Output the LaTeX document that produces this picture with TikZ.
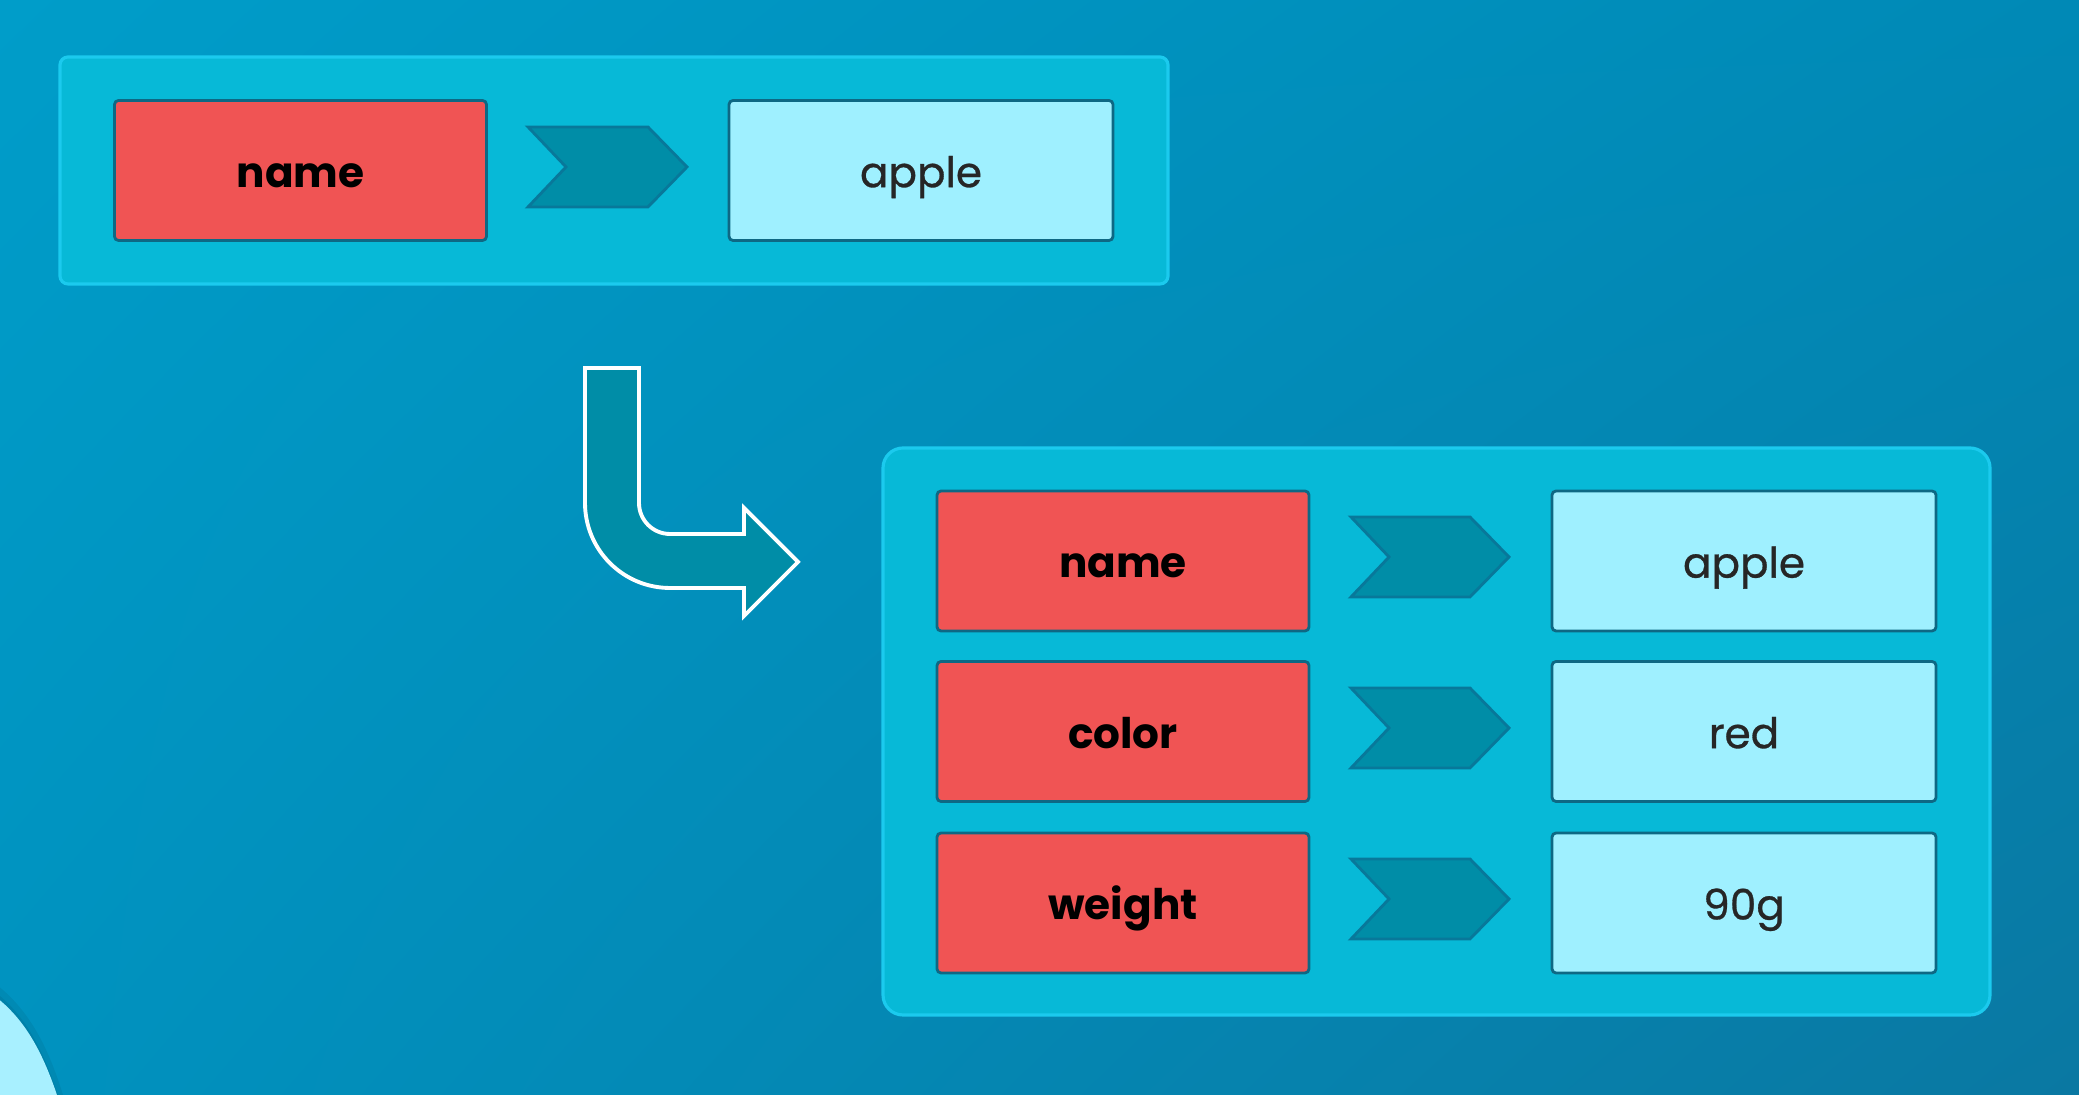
\documentclass[tikz,border=0pt]{standalone}
\usepackage{fontspec}
\setmainfont{Poppins}
\newfontfamily\valfont[FakeBold=0.7]{Poppins}
\usepackage{tikz}
\usetikzlibrary{shadings}

\definecolor{bgA}{HTML}{009DC9}
\definecolor{bgB}{HTML}{0089B6}
\definecolor{bgC}{HTML}{0092BF}
\definecolor{bgD}{HTML}{0A78A2}
\definecolor{panelfill}{HTML}{07B9D7}
\definecolor{panelline}{HTML}{1BCAEE}
\definecolor{keyfill}{HTML}{F05454}
\definecolor{valfill}{HTML}{9FF0FF}
\definecolor{boxline}{HTML}{0E6884}
\definecolor{chevfill}{HTML}{008DA7}
\definecolor{chevline}{HTML}{08789A}
\definecolor{blob}{HTML}{A8F0FF}

\tikzset{
  panel/.style={fill=panelfill, draw=panelline, line width=0.9pt},
  keybox/.style={draw=boxline, fill=keyfill, line width=0.8pt, rounded corners=0.04cm,
    minimum width=3.72cm, minimum height=1.40cm, inner sep=0pt,
    text height=1.85ex, text depth=0.12ex,
    font=\fontsize{12}{14}\selectfont\bfseries, text=black},
  valbox/.style={draw=boxline, fill=valfill, line width=0.8pt, rounded corners=0.04cm,
    minimum width=3.84cm, minimum height=1.40cm, inner sep=0pt,
    text height=1.85ex, text depth=0.12ex,
    font=\fontsize{12}{14}\selectfont\valfont, text={black!85}},
  chevron/.style={fill=chevfill, draw=chevline, line width=0.8pt, line join=miter},
}

\begin{document}
\begin{tikzpicture}[line width=0.7pt]
\useasboundingbox (0.000,0.000) rectangle (20.790,10.950);
\shade[upper left=bgA, upper right=bgB, lower left=bgC, lower right=bgD]
  (0.000,0.000) rectangle (20.790,10.950);

% bottom left corner shape
\fill[black, opacity=0.06] (-0.900,1.500) .. controls (0.050,1.250) and (0.400,0.800) .. (0.660,-0.100) -- (-0.900,-0.100) -- cycle;
\fill[black, opacity=0.06] (-0.900,1.400) .. controls (0.020,1.180) and (0.340,0.780) .. (0.610,-0.100) -- (-0.900,-0.100) -- cycle;
\fill[blob] (-0.900,1.350) .. controls (-0.050,1.150) and (0.300,0.800) .. (0.570,0.000) -- (-0.900,0.000) -- cycle;

% top panel
\draw[panel, rounded corners=0.08cm] (0.600,8.110) rectangle (11.680,10.380);
\node[keybox] (name1) at (3.005,9.245) {name};
\node[valbox] (apple1) at (9.210,9.245) {apple};
\draw[chevron] (5.280,9.680) -- (6.480,9.680) -- (6.870,9.280) -- (6.480,8.880) -- (5.280,8.880) -- (5.660,9.280) -- cycle;

% bent arrow
\draw[fill=chevfill, draw=white, line width=1.1pt, line join=miter]
  (5.850,7.270) -- (6.390,7.270) -- (6.390,5.920) arc[start angle=180, end angle=270, radius=0.310]
  -- (7.440,5.610) -- (7.440,5.870) -- (7.980,5.330) -- (7.440,4.790) -- (7.440,5.070)
  -- (6.700,5.070) arc[start angle=270, end angle=180, radius=0.850] -- cycle;

% bottom panel
\draw[panel, rounded corners=0.20cm] (8.830,0.800) rectangle (19.900,6.470);
\node[keybox] (name2) at (11.230,5.340) {name};
\node[keybox] (color) at (11.230,3.635) {color};
\node[keybox] (weight) at (11.230,1.920) {weight};
\node[valbox] (apple2) at (17.440,5.340) {apple};
\node[valbox] (red) at (17.440,3.635) {red};
\node[valbox] (gram) at (17.440,1.920) {90g};
\draw[chevron] (13.510,5.780) -- (14.700,5.780) -- (15.090,5.380) -- (14.700,4.980) -- (13.510,4.980) -- (13.890,5.380) -- cycle;
\draw[chevron] (13.510,4.070) -- (14.700,4.070) -- (15.090,3.670) -- (14.700,3.270) -- (13.510,3.270) -- (13.890,3.670) -- cycle;
\draw[chevron] (13.510,2.360) -- (14.700,2.360) -- (15.090,1.960) -- (14.700,1.560) -- (13.510,1.560) -- (13.890,1.960) -- cycle;
\end{tikzpicture}
\end{document}
